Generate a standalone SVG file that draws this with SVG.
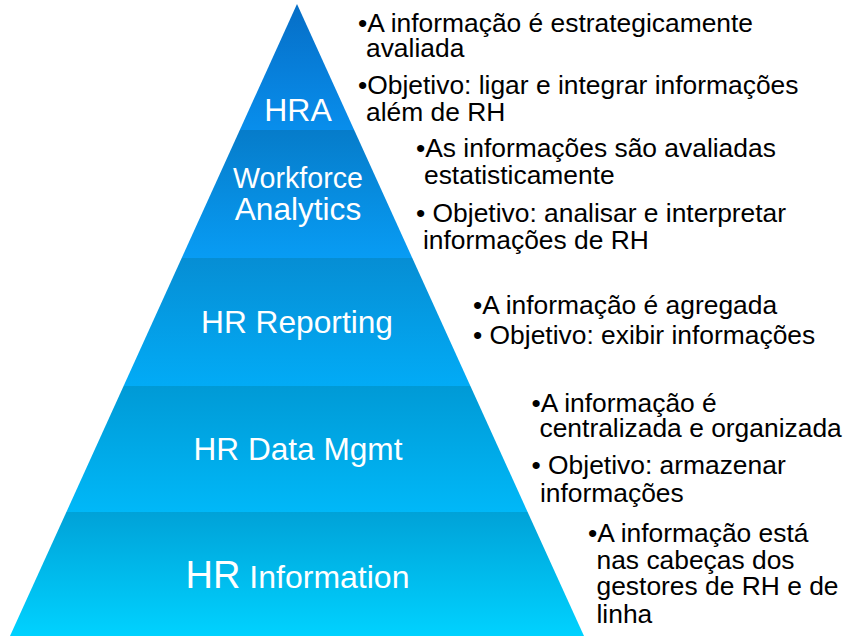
<svg xmlns="http://www.w3.org/2000/svg" width="846" height="636" viewBox="0 0 846 636">
  <style>
    .lbl { font-family: "Liberation Sans", Arial, sans-serif; fill: #ffffff; text-anchor: middle; }
    .txt { font-family: "Liberation Sans", Arial, sans-serif; font-size: 26.4px; fill: #000000; }
  </style>
  <defs>
    <linearGradient id="g1" x1="0" y1="0" x2="0" y2="1">
      <stop offset="0" stop-color="#066EC6"/>
      <stop offset="1" stop-color="#088EEC"/>
    </linearGradient>
    <linearGradient id="g2" x1="0" y1="0" x2="0" y2="1">
      <stop offset="0" stop-color="#067CCA"/>
      <stop offset="1" stop-color="#089CF4"/>
    </linearGradient>
    <linearGradient id="g3" x1="0" y1="0" x2="0" y2="1">
      <stop offset="0" stop-color="#068ED4"/>
      <stop offset="1" stop-color="#02ABF6"/>
    </linearGradient>
    <linearGradient id="g4" x1="0" y1="0" x2="0" y2="1">
      <stop offset="0" stop-color="#009AD6"/>
      <stop offset="1" stop-color="#00B8F8"/>
    </linearGradient>
    <linearGradient id="g5" x1="0" y1="0" x2="0" y2="1">
      <stop offset="0" stop-color="#00A2D8"/>
      <stop offset="1" stop-color="#00D2FF"/>
    </linearGradient>
  </defs>
  <rect width="846" height="636" fill="#ffffff"/>

  <g id="tier-hra">
    <polygon points="297,4 354.2,130 239.8,130" fill="url(#g1)"/>
    <text class="lbl" x="298" y="121" font-size="32">HRA</text>
  </g>
  <g id="tier-workforce">
    <polygon points="239.8,130 354.2,130 412.3,258 181.7,258" fill="url(#g2)"/>
    <text class="lbl" x="298" y="188" font-size="28.6">Workforce</text>
    <text class="lbl" x="298" y="220" font-size="31.6">Analytics</text>
  </g>
  <g id="tier-reporting">
    <polygon points="181.7,258 412.3,258 470.4,386 123.6,386" fill="url(#g3)"/>
    <text class="lbl" x="297" y="333" font-size="31.7">HR Reporting</text>
  </g>
  <g id="tier-datamgmt">
    <polygon points="123.6,386 470.4,386 527.6,512 66.4,512" fill="url(#g4)"/>
    <text class="lbl" x="298" y="459.5" font-size="31.6">HR Data Mgmt</text>
  </g>
  <g id="tier-information">
    <polygon points="66.4,512 527.6,512 584,636 10,636" fill="url(#g5)"/>
    <text class="lbl" x="297.5" y="588"><tspan font-size="38">HR</tspan><tspan font-size="32"> Information</tspan></text>
  </g>

  <g id="desc-hra">
    <text class="txt" x="358" y="31.5">•A informação é estrategicamente</text>
    <text class="txt" x="366" y="57">avaliada</text>
    <text class="txt" x="358" y="94">•Objetivo: ligar e integrar informações</text>
    <text class="txt" x="366" y="121">além de RH</text>
  </g>
  <g id="desc-workforce">
    <text class="txt" x="416" y="157">•As informações são avaliadas</text>
    <text class="txt" x="424" y="184">estatisticamente</text>
    <text class="txt" x="416" y="221.5" xml:space="preserve">• Objetivo: analisar e interpretar</text>
    <text class="txt" x="423" y="249">informações de RH</text>
  </g>
  <g id="desc-reporting">
    <text class="txt" x="473" y="314">•A informação é agregada</text>
    <text class="txt" x="473" y="344" xml:space="preserve">• Objetivo: exibir informações</text>
  </g>
  <g id="desc-datamgmt">
    <text class="txt" x="531.5" y="411.5">•A informação é</text>
    <text class="txt" x="539.5" y="437">centralizada e organizada</text>
    <text class="txt" x="531.5" y="474" xml:space="preserve">• Objetivo: armazenar</text>
    <text class="txt" x="540" y="501.5">informações</text>
  </g>
  <g id="desc-information">
    <text class="txt" x="588" y="541.5">•A informação está</text>
    <text class="txt" x="596.5" y="568.5">nas cabeças dos</text>
    <text class="txt" x="596.5" y="595">gestores de RH e de</text>
    <text class="txt" x="596.5" y="623">linha</text>
  </g>
</svg>
